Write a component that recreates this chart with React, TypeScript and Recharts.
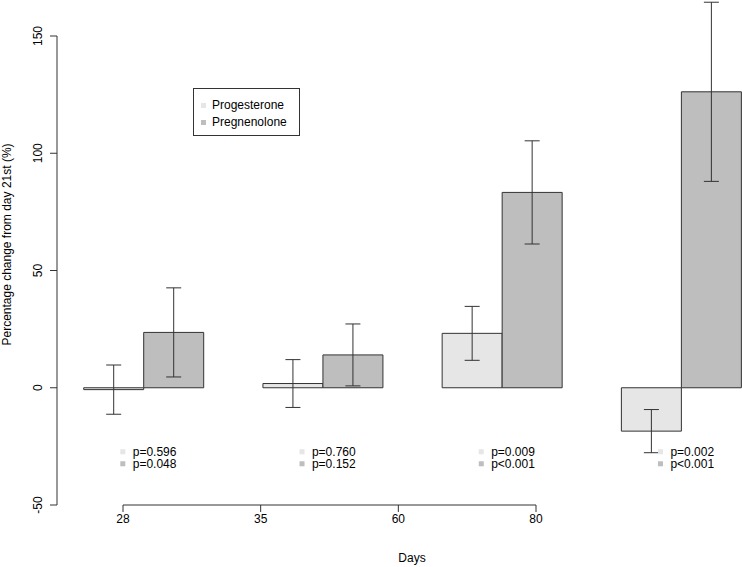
import React from 'react';
import {
  ComposedChart,
  Bar,
  ErrorBar,
  XAxis,
  YAxis,
  Legend,
  ReferenceDot,
  ReferenceLine,
} from 'recharts';

// values (% change from day 21st)
const DAYS = ['28', '35', '60', '80'];
const SERIES = ['Progesterone', 'Pregnenolone'];
const PROGESTERONE = [-0.8, 1.8, 23.2, -18.5];
const PROGESTERONE_ERR = [10.5, 10.2, 11.5, 9.2];
const PREGNENOLONE = [23.6, 14.0, 83.3, 126.2];
const PREGNENOLONE_ERR = [19.0, 13.2, 22.0, 38.2];
const P_PROGESTERONE = ['p=0.596', 'p=0.760', 'p=0.009', 'p=0.002'];
const P_PREGNENOLONE = ['p=0.048', 'p=0.152', 'p<0.001', 'p<0.001'];
const Y_TICKS = [-50, 0, 50, 100, 150];
const DAY_TICKS = [0, 1, 2, 3];

const PROG_FILL = '#e6e6e6';
const PREG_FILL = '#bebebe';
const INK = '#333';
const FONT = '"Liberation Sans", Arial, Helvetica, sans-serif';
const P_LABEL_Y = -27.3; // where the p-value notes sit, in axis units

const data = DAYS.map((day, i) => ({
  day,
  prog: PROGESTERONE[i],
  progErr: PROGESTERONE_ERR[i],
  preg: PREGNENOLONE[i],
  pregErr: PREGNENOLONE_ERR[i],
}));

const YTick = (props: any) => {
  const { x, y, payload } = props;
  return (
    <text
      x={x}
      y={y}
      transform={`rotate(-90 ${x} ${y})`}
      textAnchor="middle"
      fontSize={12}
      fill="#000"
    >
      {payload.value}
    </text>
  );
};

const YTitle = (props: any) => {
  const { viewBox } = props;
  const x = 11;
  const y = viewBox.y + viewBox.height / 2 - 26;
  return (
    <text x={x} y={y} transform={`rotate(-90 ${x} ${y})`} textAnchor="middle" fontSize={12} fill="#000">
      Percentage change from day 21st (%)
    </text>
  );
};

const LegendBox = (props: any) => {
  const payload = [...(props.payload || [])].sort(
    (a: any, b: any) => SERIES.indexOf(a.value) - SERIES.indexOf(b.value)
  );
  return (
    <div
      style={{
        position: 'relative',
        width: 105,
        height: 46,
        border: `1px solid ${INK}`,
        background: '#fff',
        fontFamily: FONT,
        fontSize: 12,
        color: '#000',
      }}
    >
      {payload.map((entry: any, i: number) => (
        <div
          key={entry.value}
          style={{ position: 'absolute', left: 7, top: 9 + i * 17, height: 14, display: 'flex', alignItems: 'center' }}
        >
          <span style={{ width: 5, height: 5, background: entry.color, marginRight: 6 }} />
          <span style={{ lineHeight: '14px' }}>{entry.value}</span>
        </div>
      ))}
    </div>
  );
};

const PNote = (i: number) => (props: any) => {
  const { cx, cy } = props;
  return (
    <g fontSize={12} fill="#000">
      <rect x={cx - 23} y={cy - 2.5} width={5} height={5} fill={PROG_FILL} />
      <text x={cx - 10.6} y={cy} dominantBaseline="central">
        {P_PROGESTERONE[i]}
      </text>
      <rect x={cx - 23} y={cy + 9.5} width={5} height={5} fill={PREG_FILL} />
      <text x={cx - 10.6} y={cy + 12.2} dominantBaseline="central">
        {P_PREGNENOLONE[i]}
      </text>
    </g>
  );
};

export default function App() {
  return (
    <div
      style={{
        position: 'absolute',
        left: 0,
        top: 0,
        width: 742,
        height: 567,
        overflow: 'hidden',
        background: '#fff',
        fontFamily: FONT,
      }}
    >
      <style>{'.recharts-wrapper g[clip-path]{clip-path:none !important}'}</style>
      <ComposedChart
        width={770}
        height={567}
        data={data}
        margin={{ top: 36, right: 3, bottom: 0, left: 0 }}
        barGap={0}
      >
        <XAxis dataKey="day" hide height={0} padding={{ left: -3.3, right: -3.6 }} />
        <XAxis
          xAxisId="days"
          type="number"
          domain={[0, 3]}
          allowDataOverflow
          ticks={DAY_TICKS}
          interval={0}
          tickFormatter={(i: number) => DAYS[i]}
          padding={{ left: 66, right: 231 }}
          axisLine={false}
          tickSize={7}
          tickMargin={2}
          height={62}
          tick={{ fill: '#000', fontSize: 12 }}
          tickLine={{ stroke: INK }}
          label={{ value: 'Days', position: 'insideBottom', offset: 5, fill: '#000', fontSize: 12 }}
        />
        <YAxis
          domain={[-50, 150]}
          allowDataOverflow
          ticks={Y_TICKS}
          interval={0}
          width={57}
          tickSize={7}
          tickMargin={8}
          tick={<YTick />}
          axisLine={{ stroke: INK }}
          tickLine={{ stroke: INK }}
          label={YTitle}
        />
        <ReferenceLine
          xAxisId="days"
          segment={[
            { x: DAY_TICKS[0], y: Y_TICKS[0] },
            { x: DAY_TICKS[DAY_TICKS.length - 1], y: Y_TICKS[0] },
          ]}
          stroke={INK}
        />
        <Legend
          content={<LegendBox />}
          layout="horizontal"
          verticalAlign="middle"
          align="center"
          wrapperStyle={{ left: 193, top: 88, width: 107, height: 48 }}
        />
        <Bar dataKey="prog" name={SERIES[0]} fill={PROG_FILL} stroke={INK} strokeWidth={1} barSize={60} isAnimationActive={false}>
          <ErrorBar dataKey="progErr" width={7.5} stroke={INK} strokeWidth={1} isAnimationActive={false} />
        </Bar>
        <Bar dataKey="preg" name={SERIES[1]} fill={PREG_FILL} stroke={INK} strokeWidth={1} barSize={60} isAnimationActive={false}>
          <ErrorBar dataKey="pregErr" width={7.5} stroke={INK} strokeWidth={1} isAnimationActive={false} />
        </Bar>
        {DAYS.map((day, i) => (
          <ReferenceDot key={day} x={day} y={P_LABEL_Y} r={0} shape={PNote(i)} />
        ))}
      </ComposedChart>
    </div>
  );
}
